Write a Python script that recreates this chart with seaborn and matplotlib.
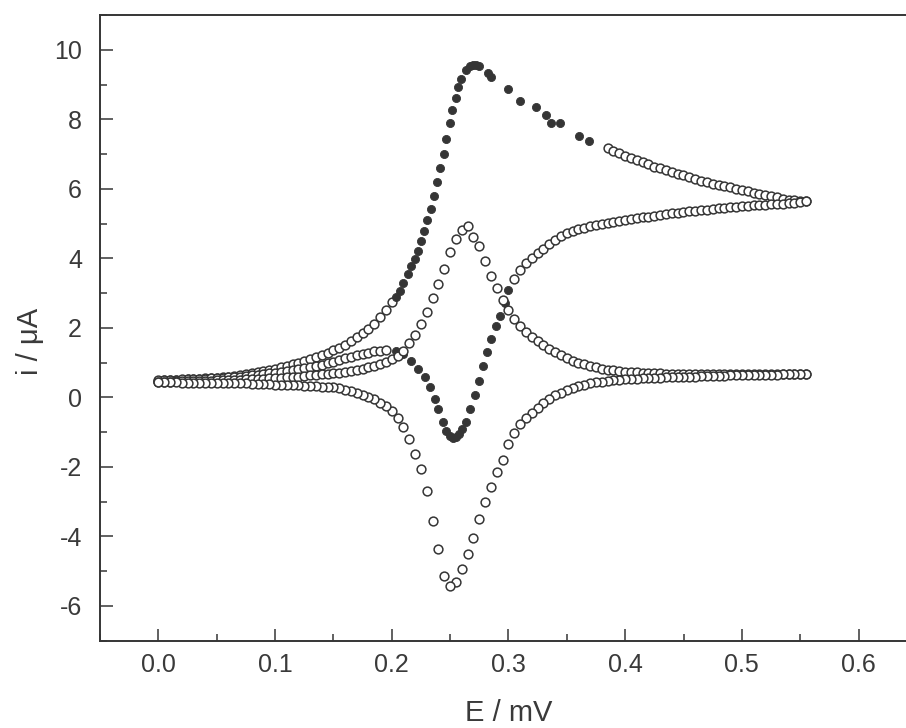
import matplotlib
matplotlib.use("Agg")
import matplotlib.pyplot as plt
from matplotlib.ticker import MultipleLocator
import numpy as np
import pandas as pd
import seaborn as sns

# ---------------- data ----------------
# potential sweep grid, V (0.000 ... 0.555)
E_sweep = [0.000, 0.005, 0.010, 0.015, 0.020, 0.025, 0.030, 0.035, 0.040, 0.045,
           0.050, 0.055, 0.060, 0.065, 0.070, 0.075, 0.080, 0.085, 0.090, 0.095,
           0.100, 0.105, 0.110, 0.115, 0.120, 0.125, 0.130, 0.135, 0.140, 0.145,
           0.150, 0.155, 0.160, 0.165, 0.170, 0.175, 0.180, 0.185, 0.190, 0.195,
           0.200, 0.205, 0.210, 0.215, 0.220, 0.225, 0.230, 0.235, 0.240, 0.245,
           0.250, 0.255, 0.260, 0.265, 0.270, 0.275, 0.280, 0.285, 0.290, 0.295,
           0.300, 0.305, 0.310, 0.315, 0.320, 0.325, 0.330, 0.335, 0.340, 0.345,
           0.350, 0.355, 0.360, 0.365, 0.370, 0.375, 0.380, 0.385, 0.390, 0.395,
           0.400, 0.405, 0.410, 0.415, 0.420, 0.425, 0.430, 0.435, 0.440, 0.445,
           0.450, 0.455, 0.460, 0.465, 0.470, 0.475, 0.480, 0.485, 0.490, 0.495,
           0.500, 0.505, 0.510, 0.515, 0.520, 0.525, 0.530, 0.535, 0.540, 0.545,
           0.550, 0.555]

# small loop (open circles), forward sweep, on E_sweep
small_fwd_i = [0.45, 0.45, 0.45, 0.46, 0.46, 0.46, 0.47, 0.47, 0.48, 0.48,
               0.49, 0.49, 0.50, 0.50, 0.51, 0.52, 0.53, 0.53, 0.54, 0.55,
               0.56, 0.57, 0.58, 0.59, 0.60, 0.61, 0.63, 0.64, 0.66, 0.67,
               0.69, 0.71, 0.73, 0.76, 0.79, 0.82, 0.86, 0.90, 0.96, 1.02,
               1.10, 1.20, 1.34, 1.55, 1.78, 2.10, 2.45, 2.85, 3.25, 3.70,
               4.17, 4.55, 4.82, 4.92, 4.62, 4.35, 3.92, 3.50, 3.15, 2.80,
               2.50, 2.25, 2.06, 1.89, 1.75, 1.62, 1.50, 1.40, 1.30, 1.21,
               1.13, 1.06, 1.00, 0.95, 0.90, 0.86, 0.83, 0.80, 0.78, 0.76,
               0.74, 0.73, 0.72, 0.71, 0.70, 0.69, 0.69, 0.68, 0.68, 0.67,
               0.67, 0.67, 0.67, 0.67, 0.67, 0.67, 0.67, 0.67, 0.67, 0.67,
               0.67, 0.67, 0.68, 0.68, 0.68, 0.68, 0.68, 0.68, 0.68, 0.68,
               0.68, 0.68]

# small loop (open circles), reverse sweep, on E_sweep
small_rev_i = [0.43, 0.43, 0.43, 0.43, 0.42, 0.42, 0.42, 0.42, 0.42, 0.41,
               0.41, 0.41, 0.41, 0.41, 0.40, 0.40, 0.39, 0.39, 0.38, 0.38,
               0.37, 0.37, 0.36, 0.36, 0.35, 0.34, 0.33, 0.32, 0.31, 0.30,
               0.29, 0.26, 0.22, 0.18, 0.13, 0.08, 0.02, -0.06, -0.15, -0.26,
               -0.40, -0.60, -0.86, -1.20, -1.62, -2.05, -2.70, -3.55, -4.35, -5.15,
               -5.43, -5.30, -4.95, -4.50, -4.05, -3.50, -3.00, -2.57, -2.15, -1.80,
               -1.35, -1.02, -0.78, -0.60, -0.45, -0.30, -0.16, -0.04, 0.06, 0.14,
               0.21, 0.27, 0.32, 0.36, 0.40, 0.43, 0.45, 0.48, 0.49, 0.50,
               0.52, 0.53, 0.54, 0.55, 0.56, 0.57, 0.57, 0.58, 0.58, 0.59,
               0.59, 0.60, 0.60, 0.61, 0.61, 0.62, 0.62, 0.62, 0.63, 0.63,
               0.63, 0.64, 0.64, 0.64, 0.65, 0.65, 0.65, 0.66, 0.66, 0.66,
               0.67, 0.67]

# large loop, forward sweep, dense part 0.000-0.200 (E_sweep[0:41])
big_fwd_low_i = [0.48, 0.49, 0.50, 0.50, 0.51, 0.52, 0.53, 0.54, 0.55, 0.56,
                 0.57, 0.58, 0.60, 0.62, 0.64, 0.66, 0.69, 0.72, 0.75, 0.79,
                 0.83, 0.87, 0.91, 0.95, 1.00, 1.05, 1.10, 1.16, 1.22, 1.28,
                 1.35, 1.43, 1.52, 1.62, 1.73, 1.85, 1.98, 2.12, 2.30, 2.50,
                 2.75]
# large loop, forward sweep, sparse points (filled dots)
big_fwd_dot_E = [0.2035, 0.2067, 0.2100, 0.2135, 0.2167, 0.2196, 0.2224, 0.2253,
                 0.2273, 0.2304, 0.2333, 0.2361, 0.2387, 0.2410, 0.2447, 0.2467,
                 0.2496, 0.2519, 0.2547, 0.2567, 0.2596, 0.2639, 0.2670, 0.2696,
                 0.2720, 0.2745, 0.2824, 0.2853, 0.2996, 0.3096, 0.3233, 0.3325,
                 0.3368, 0.3445, 0.3605, 0.3690]
big_fwd_dot_i = [2.90, 3.05, 3.30, 3.55, 3.79, 3.99, 4.22, 4.51,
                 4.80, 5.11, 5.41, 5.79, 6.20, 6.60, 7.01, 7.44,
                 7.88, 8.26, 8.60, 8.93, 9.17, 9.41, 9.52, 9.56,
                 9.57, 9.52, 9.32, 9.22, 8.87, 8.52, 8.36, 8.11,
                 7.90, 7.88, 7.52, 7.37]
# large loop, forward sweep, dense part 0.385-0.555 (E_sweep[77:112])
big_fwd_high_i = [7.17, 7.09, 7.02, 6.95, 6.89, 6.82, 6.76, 6.70, 6.64, 6.59,
                  6.54, 6.49, 6.44, 6.39, 6.34, 6.28, 6.23, 6.19, 6.15, 6.11,
                  6.07, 6.04, 6.00, 5.97, 5.93, 5.89, 5.85, 5.82, 5.78, 5.75,
                  5.72, 5.69, 5.67, 5.65, 5.64]

# large loop, reverse sweep, dense part 0.305-0.555 (E_sweep[61:112])
big_rev_high_i = [3.40, 3.66, 3.87, 4.02, 4.15, 4.28, 4.40, 4.52, 4.63,
                  4.72, 4.79, 4.84, 4.88, 4.92, 4.96, 4.99, 5.02, 5.05, 5.07,
                  5.10, 5.13, 5.15, 5.18, 5.20, 5.23, 5.25, 5.27, 5.29, 5.31,
                  5.33, 5.35, 5.37, 5.38, 5.40, 5.42, 5.44, 5.45, 5.47, 5.48,
                  5.50, 5.51, 5.52, 5.53, 5.54, 5.55, 5.56, 5.57, 5.58, 5.59,
                  5.61, 5.64]
# large loop, reverse sweep, sparse points (filled dots)
big_rev_dot_E = [0.3000, 0.2967, 0.2924, 0.2896, 0.2853, 0.2816, 0.2782, 0.2747,
                 0.2711, 0.2667, 0.2632, 0.2600, 0.2575, 0.2550, 0.2524, 0.2495,
                 0.2467, 0.2438, 0.2396, 0.2367, 0.2324, 0.2281, 0.2224, 0.2167,
                 0.2096, 0.2040]
big_rev_dot_i = [3.10, 2.72, 2.35, 2.06, 1.68, 1.30, 0.91, 0.48,
                 0.07, -0.34, -0.70, -0.92, -1.05, -1.15, -1.18, -1.12,
                 -0.96, -0.70, -0.34, -0.05, 0.29, 0.58, 0.82, 1.05,
                 1.25, 1.32]
# large loop, reverse sweep, dense part 0.000-0.195 (E_sweep[0:40])
big_rev_low_i = [0.50, 0.50, 0.51, 0.51, 0.52, 0.52, 0.53, 0.53, 0.54, 0.55,
                 0.56, 0.57, 0.58, 0.59, 0.60, 0.62, 0.63, 0.65, 0.67, 0.69,
                 0.71, 0.73, 0.76, 0.78, 0.81, 0.84, 0.87, 0.90, 0.94, 0.98,
                 1.02, 1.07, 1.12, 1.17, 1.22, 1.26, 1.29, 1.32, 1.34, 1.35]

x_ticks = [0.0, 0.1, 0.2, 0.3, 0.4, 0.5, 0.6]
y_ticks = [-6, -4, -2, 0, 2, 4, 6, 8, 10]
x_label = "E / mV"
y_label = "i / \u03bcA"

# ---------------- tables ----------------
E = np.array(E_sweep)
dense_open = pd.concat([
    pd.DataFrame({"E": E[0:41], "i": big_fwd_low_i}),
    pd.DataFrame({"E": E[77:112], "i": big_fwd_high_i}),
    pd.DataFrame({"E": E[61:112], "i": big_rev_high_i}),
    pd.DataFrame({"E": E[0:40], "i": big_rev_low_i}),
], ignore_index=True)
big_dots = pd.concat([
    pd.DataFrame({"E": big_fwd_dot_E, "i": big_fwd_dot_i}),
    pd.DataFrame({"E": big_rev_dot_E, "i": big_rev_dot_i}),
], ignore_index=True)
small_loop = pd.concat([
    pd.DataFrame({"E": E, "i": small_fwd_i}),
    pd.DataFrame({"E": E[::-1], "i": small_rev_i[::-1]}),
], ignore_index=True)

# ---------------- style ----------------
sns.set_style("ticks")
plt.rcParams["font.family"] = ["Liberation Sans", "DejaVu Sans"]
plt.rcParams["axes.unicode_minus"] = False
INK = "#353535"

fig = plt.figure(figsize=(9.06, 7.28), dpi=100)
ax = fig.add_axes([100 / 906, 87.3 / 728, 816.9 / 906, 625.7 / 728])

sns.scatterplot(data=dense_open, x="E", y="i", ax=ax, s=40, color="white",
                edgecolor=INK, linewidth=1.1, legend=False, zorder=3)
sns.scatterplot(data=big_dots, x="E", y="i", ax=ax, s=34, color=INK,
                edgecolor=INK, linewidth=0.6, legend=False, zorder=4)
sns.scatterplot(data=small_loop, x="E", y="i", ax=ax, s=40, color="white",
                edgecolor=INK, linewidth=1.1, legend=False, zorder=5)

ax.set_xlim(-0.05, 0.65)
ax.set_ylim(-7, 11)
ax.set_xticks(x_ticks)
ax.set_xticklabels([f"{v:.1f}" for v in x_ticks])
ax.set_yticks(y_ticks)
ax.set_yticklabels([str(v) for v in y_ticks])
ax.xaxis.set_minor_locator(MultipleLocator(0.05))
ax.yaxis.set_minor_locator(MultipleLocator(1))

for side in ["left", "bottom", "top"]:
    ax.spines[side].set_visible(True)
    ax.spines[side].set_linewidth(1.4)
    ax.spines[side].set_color(INK)
ax.spines["right"].set_visible(False)

ax.tick_params(which="both", direction="in", top=False, right=False,
               width=1.1, color=INK, labelcolor="#3a3a3a")
ax.tick_params(which="major", length=9)
ax.tick_params(which="minor", length=5)
ax.tick_params(axis="x", which="major", labelsize=18, pad=9)
ax.tick_params(axis="y", which="major", labelsize=18, pad=13)

ax.set_xlabel(x_label, fontsize=21, color="#3a3a3a")
ax.set_ylabel(y_label, fontsize=21, color="#3a3a3a")
ax.xaxis.set_label_coords(0.5, -0.093)
ax.yaxis.set_label_coords(-0.068, 0.478)
ax.grid(False)

fig.savefig("out.png", dpi=100, facecolor="white")
